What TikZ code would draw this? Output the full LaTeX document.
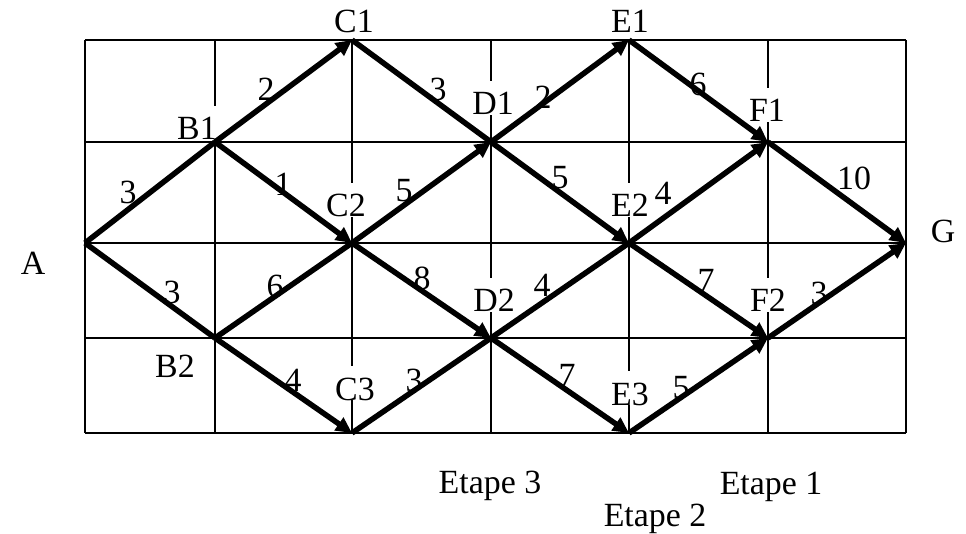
\documentclass[tikz,border=0pt]{standalone}
\usepackage{fontspec}
\setmainfont{Liberation Serif}
\usetikzlibrary{arrows.meta}

\begin{document}
\begin{tikzpicture}[
    x=1bp, y=-1bp,
    grid/.style={line width=2.2bp, black},
    edge/.style={line width=5.5bp},
    arrow/.style={edge, -{Triangle[length=16bp,width=15bp]}},
    lbl/.style={fill=white, inner sep=0pt, text height=34bp, text depth=0pt, anchor=base, font=\fontsize{34}{40}\selectfont},
    num/.style={inner sep=0pt, font=\fontsize{34}{40}\selectfont},
    etape/.style={inner sep=0pt, anchor=base, font=\fontsize{34}{40}\selectfont}
  ]
    \useasboundingbox (0,0) rectangle (966,534);
    % grid
    \foreach \x in {85,215,352,491,629,768,906}
      \draw[grid] (\x,40) -- (\x,433);
    \foreach \y in {40,142,243,338,433}
      \draw[grid] (85,\y) -- (906,\y);
    % points
    \coordinate (A) at (85,243);
    \coordinate (B1) at (215,142);
    \coordinate (B2) at (215,338);
    \coordinate (C1) at (352,40);
    \coordinate (C2) at (352,243);
    \coordinate (C3) at (352,433);
    \coordinate (D1) at (491,142);
    \coordinate (D2) at (491,338);
    \coordinate (E1) at (629,40);
    \coordinate (E2) at (629,243);
    \coordinate (E3) at (629,433);
    \coordinate (F1) at (768,142);
    \coordinate (F2) at (768,338);
    \coordinate (G) at (906,243);
    % labels
    \node[lbl] (lA) at (33,275) {A};
    \node[lbl] (lB1) at (197,140) {B1};
    \node[lbl] (lB2) at (175,378) {B2};
    \node[lbl] (lC1) at (354,33) {C1};
    \node[lbl] (lC2) at (346,217) {C2};
    \node[lbl] (lC3) at (355,400) {C3};
    \node[lbl] (lD1) at (493,115) {D1};
    \node[lbl] (lD2) at (494,312) {D2};
    \node[lbl] (lE1) at (630,33) {E1};
    \node[lbl] (lE2) at (630,217) {E2};
    \node[lbl] (lE3) at (630,405) {E3};
    \node[lbl] (lF1) at (767,122) {F1};
    \node[lbl] (lF2) at (768,312) {F2};
    \node[lbl] (lG) at (943,243) {G};
    % costs
    \foreach \x/\y/\t [count=\i] in {128/192/3, 266/89/2, 172/292/3, 283/184/1, 275/286/6,
        293/380/4, 438/89/3, 404/191/5, 422/278/8, 414/380/3, 543/97/2, 560/178/5,
        542/285/4, 567/375/7, 698/84/6, 663/193/4, 706/280/7, 681/388/5, 854/178/10, 819/293/3}
      \node[num] (w\i) at (\x,\y) {\t};
    % connectors
    \foreach \a/\b in {A/B1, A/B2, B2/C2, C1/D1, C3/D2, D2/E2}
      \draw[edge] (\a) -- (\b);
    \foreach \a/\b in {B1/C1, B1/C2, B2/C3, C2/D1, C2/D2, D1/E1, D1/E2, D2/E3,
        E1/F1, E2/F1, E2/F2, E3/F2, F1/G, F2/G}
      \draw[arrow] (\a) -- (\b);
    % stages
    \node[etape] (et3) at (490,493) {Etape 3};
    \node[etape] (et1) at (771,494) {Etape 1};
    \node[etape] (et2) at (655,526) {Etape 2};
  \end{tikzpicture}
\end{document}
